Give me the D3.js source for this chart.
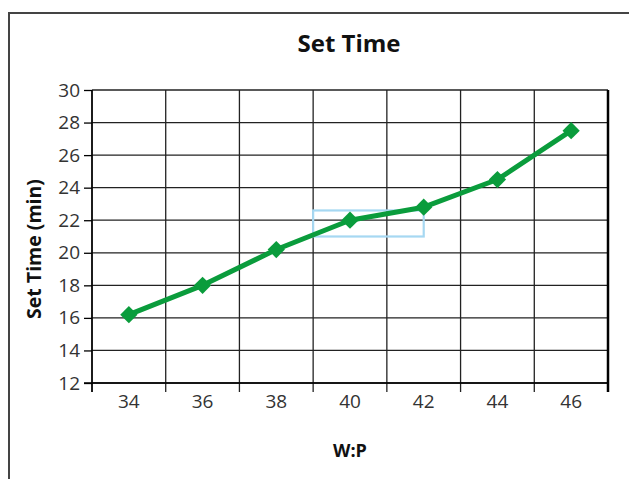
<!DOCTYPE html>
<html>
<head>
<meta charset="utf-8">
<script src="https://cdn.jsdelivr.net/npm/d3@7/dist/d3.min.js"></script>
<style>
  html, body { margin: 0; padding: 0; background: #fff; }
  svg { display: block; }
  text { font-family: "Open Sans", "Noto Sans", sans-serif; }
</style>
</head>
<body>
<div id="chart"></div>
<script>
// W:P ratio categories and measured set times (minutes)
const ratios = ["34", "36", "38", "40", "42", "44", "46"];
const setTimes = [16.2, 18.0, 20.2, 22.0, 22.8, 24.5, 27.5];
const yTicks = [12, 14, 16, 18, 20, 22, 24, 26, 28, 30];
// highlighted region: from the start of the "40" band to the centre of "42", between 21 and 22.6 min
const highlightX = ["40", "42"];
const highlightY = [21, 22.6];

const W = 629, H = 479;
const plot = { left: 92, right: 608, top: 90, bottom: 383 };

const svg = d3.select("#chart").append("svg")
  .attr("width", W).attr("height", H);

// outer frame (runs off the right and bottom edges)
svg.append("rect")
  .attr("x", 9).attr("y", 13)
  .attr("width", 640).attr("height", 490)
  .attr("fill", "#fff")
  .attr("stroke", "#444").attr("stroke-width", 2);

const x = d3.scaleBand().domain(ratios)
  .range([plot.left, plot.right]).paddingInner(0).paddingOuter(0);
const y = d3.scaleLinear().domain([12, 30])
  .range([plot.bottom, plot.top]);

// horizontal gridlines
svg.append("g").selectAll("line").data(yTicks).join("line")
  .attr("x1", plot.left).attr("x2", plot.right)
  .attr("y1", d => y(d)).attr("y2", d => y(d))
  .attr("stroke", "#222").attr("stroke-width", 1.3);

// vertical gridlines at band boundaries
const bounds = ratios.map(r => x(r)).concat([plot.right]);
svg.append("g").selectAll("line").data(bounds).join("line")
  .attr("x1", d => d).attr("x2", d => d)
  .attr("y1", plot.top).attr("y2", plot.bottom + 9)
  .attr("stroke", "#222").attr("stroke-width", 1.3);

// right border of the plot
svg.append("line")
  .attr("x1", plot.right).attr("x2", plot.right)
  .attr("y1", plot.top).attr("y2", plot.bottom + 9)
  .attr("stroke", "#000").attr("stroke-width", 2.5);

// y axis
const yAxis = svg.append("g")
  .attr("transform", `translate(${plot.left},0)`)
  .call(d3.axisLeft(y).tickValues(yTicks).tickSize(8).tickPadding(4).tickSizeOuter(0));
yAxis.attr("font-size", 19).attr("font-family", null);
yAxis.select(".domain").attr("stroke", "#000").attr("stroke-width", 1.5)
  .attr("d", `M0,${plot.top}V${plot.bottom + 9}`);
yAxis.selectAll(".tick line").attr("stroke", "#000").attr("stroke-width", 1.3);
yAxis.selectAll(".tick text").attr("fill", "#333");

// x axis
const xAxis = svg.append("g")
  .attr("transform", `translate(0,${plot.bottom})`)
  .call(d3.axisBottom(x).tickSize(0).tickPadding(12).tickSizeOuter(0));
xAxis.attr("font-size", 19).attr("font-family", null);
xAxis.select(".domain").attr("stroke", "#000").attr("stroke-width", 1.5)
  .attr("d", `M${plot.left - 8},0H${plot.right}`);
xAxis.selectAll(".tick text").attr("fill", "#333");

// highlight box
const hx0 = x(highlightX[0]);
const hx1 = x(highlightX[1]) + x.bandwidth() / 2;
svg.append("rect")
  .attr("x", hx0).attr("y", y(highlightY[1]))
  .attr("width", hx1 - hx0)
  .attr("height", y(highlightY[0]) - y(highlightY[1]))
  .attr("fill", "none")
  .attr("stroke", "#a6d8f2").attr("stroke-width", 2.2);

// series line
const cx = d => x(d) + x.bandwidth() / 2;
const pts = ratios.map((r, i) => [cx(r), y(setTimes[i])]);
svg.append("path")
  .attr("d", d3.line()(pts))
  .attr("fill", "none")
  .attr("stroke", "#0a9c3c").attr("stroke-width", 5)
  .attr("stroke-linejoin", "round");

// diamond markers
svg.append("g").selectAll("path").data(pts).join("path")
  .attr("transform", d => `translate(${d[0]},${d[1]})`)
  .attr("d", d3.symbol().type(d3.symbolDiamond2).size(190))
  .attr("fill", "#0a9c3c");

// title
svg.append("text")
  .attr("x", 349).attr("y", 52)
  .attr("text-anchor", "middle")
  .attr("font-size", 24).attr("font-weight", "bold")
  .attr("fill", "#111")
  .text("Set Time");

// y axis title
svg.append("text")
  .attr("transform", `translate(41,249) rotate(-90)`)
  .attr("text-anchor", "middle")
  .attr("font-size", 19.5).attr("font-weight", "bold")
  .attr("fill", "#111")
  .text("Set Time (min)");

// x axis title
svg.append("text")
  .attr("x", 350).attr("y", 457)
  .attr("text-anchor", "middle")
  .attr("font-size", 18).attr("font-weight", "bold")
  .attr("fill", "#111")
  .text("W:P");
</script>
</body>
</html>
